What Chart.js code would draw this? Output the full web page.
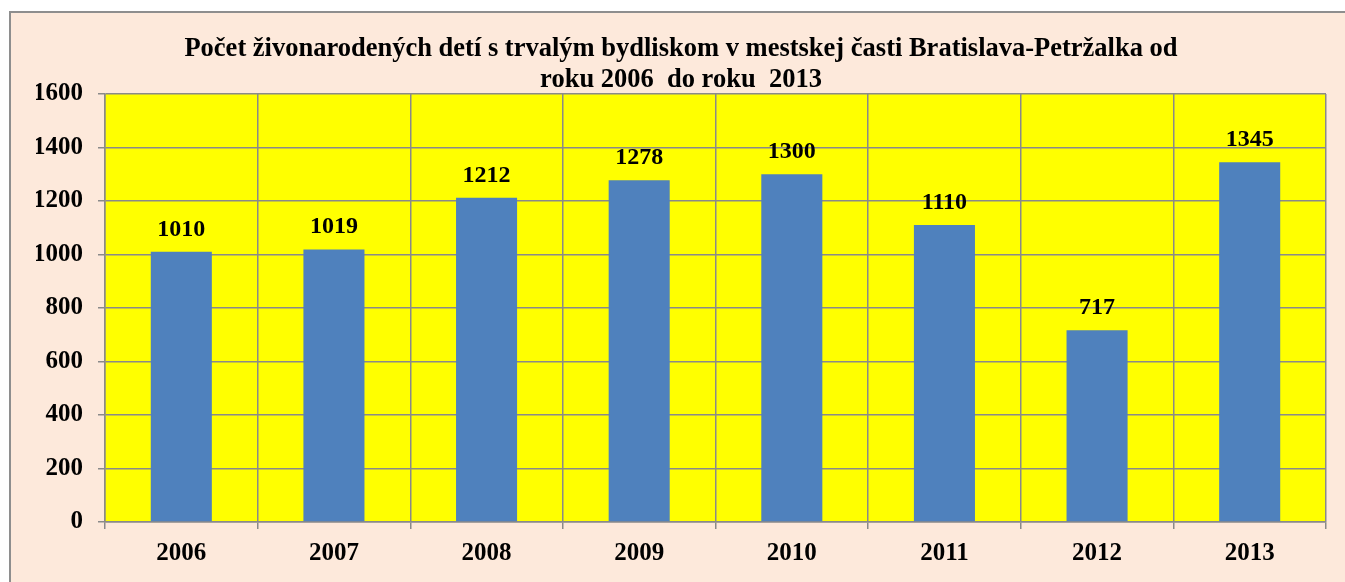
<!DOCTYPE html>
<html>
<head>
<meta charset="utf-8">
<script src="https://cdn.jsdelivr.net/npm/chart.js@4"></script>
<style>
  body { margin: 0; background: #ffffff; overflow: hidden; }
  #box {
    position: absolute; left: 9px; top: 11px; width: 1400px; height: 620px;
    background: #fde9db; border: 2px solid #8e8e8e;
  }
  #c { position: absolute; left: 0; top: 0; }
</style>
</head>
<body>
<div id="box"></div>
<canvas id="c" width="1345" height="582"></canvas>
<script>
// údaje z grafu
const years = ["2006", "2007", "2008", "2009", "2010", "2011", "2012", "2013"];
const births = [1010, 1019, 1212, 1278, 1300, 1110, 717, 1345];
const titleLines = [
  "Počet živonarodených detí s trvalým bydliskom v mestskej časti Bratislava-Petržalka od",
  "roku 2006  do roku  2013"
];

const serif = "'Times New Roman', 'Liberation Serif', serif";
const gridColor = "#8a8a8a";

// žlté pozadie plochy grafu
const plotBg = {
  id: "plotBg",
  beforeDraw(chart) {
    const { ctx, chartArea: a } = chart;
    ctx.save();
    ctx.fillStyle = "#ffff00";
    ctx.fillRect(a.left, a.top, a.right - a.left, a.bottom - a.top);
    ctx.restore();
  },
};

// hodnoty nad stĺpcami
const barLabels = {
  id: "barLabels",
  afterDatasetsDraw(chart) {
    const ctx = chart.ctx;
    const meta = chart.getDatasetMeta(0);
    ctx.save();
    ctx.font = "bold 24px " + serif;
    ctx.fillStyle = "#000";
    ctx.textAlign = "center";
    ctx.textBaseline = "alphabetic";
    meta.data.forEach((bar, i) => {
      ctx.fillText(String(births[i]), bar.x, bar.y - 16);
    });
    ctx.restore();
  },
};

new Chart(document.getElementById("c").getContext("2d"), {
  type: "bar",
  data: {
    labels: years,
    datasets: [
      {
        data: births,
        backgroundColor: "#4f81bd",
        borderWidth: 0,
        categoryPercentage: 1,
        barPercentage: 0.4,
      },
    ],
  },
  options: {
    responsive: false,
    animation: false,
    layout: { padding: { left: 36, right: 19, top: 0, bottom: 0 } },
    plugins: {
      legend: { display: false },
      tooltip: { enabled: false },
      title: {
        display: true,
        text: titleLines,
        color: "#000",
        font: { family: serif, size: 26.5, weight: "bold", lineHeight: 1.17 },
        padding: { top: 34, bottom: -2 },
      },
    },
    scales: {
      x: {
        afterFit: (s) => { s.height = 60; },
        grid: {
          offset: true,
          color: gridColor,
          lineWidth: 1.5,
          tickLength: 7,
        },
        border: { color: gridColor, width: 1.5 },
        ticks: {
          color: "#000",
          padding: 10,
          font: { family: serif, size: 25, weight: "bold" },
        },
      },
      y: {
        min: 0,
        max: 1600,
        afterFit: (s) => { s.width = 69; },
        grid: { color: gridColor, lineWidth: 1.5, tickLength: 7 },
        border: { color: gridColor, width: 1.5 },
        ticks: {
          stepSize: 200,
          color: "#000",
          padding: 15,
          font: { family: serif, size: 25, weight: "bold" },
          callback: (v) => String(v),
        },
      },
    },
  },
  plugins: [plotBg, barLabels],
});
</script>
</body>
</html>
